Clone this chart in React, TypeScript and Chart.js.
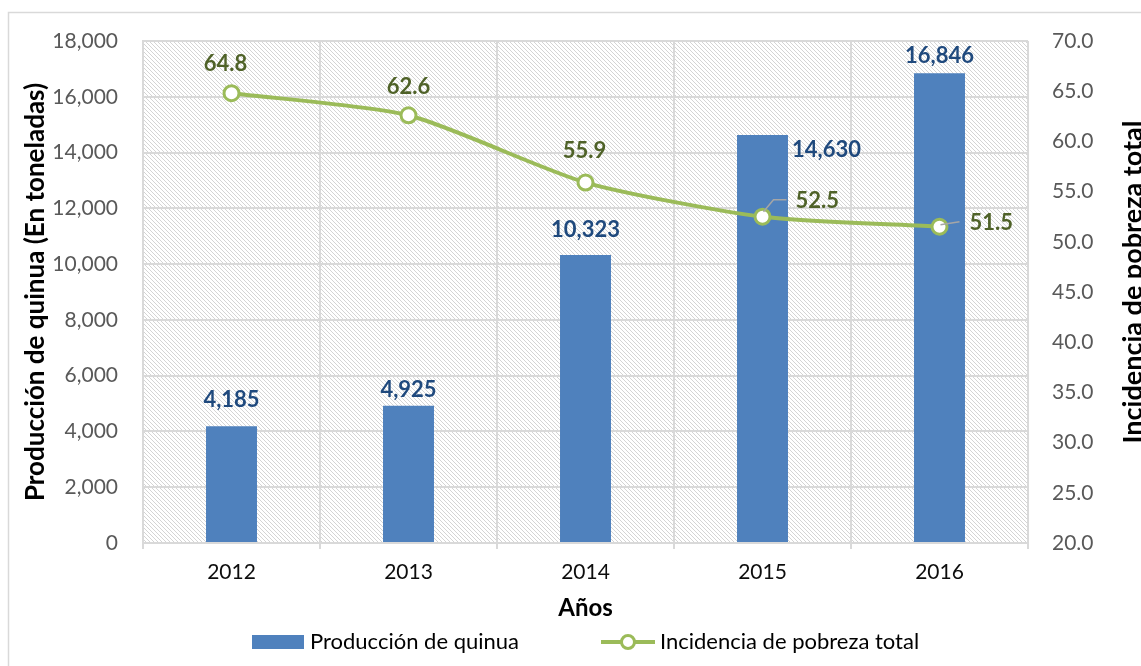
import React, { useEffect, useRef } from 'react';
import { Chart, registerables } from 'chart.js';

Chart.register(...registerables);

// ---- data ----
const years: string[] = ['2012', '2013', '2014', '2015', '2016'];
const produccion: number[] = [4185, 4925, 10323, 14630, 16846];
const pobreza: number[] = [64.8, 62.6, 55.9, 52.5, 51.5];

const leftMin = 0;
const leftMax = 18000;
const leftStep = 2000;
const rightMin = 20;
const rightMax = 70;
const rightStep = 5;

const barLabel = 'Producción de quinua';
const lineLabel = 'Incidencia de pobreza total';
const leftTitle = 'Producción de quinua (En toneladas)';
const rightTitle = 'Incidencia de pobreza total';
const xTitle = 'Años';

// ---- style ----
const FONT = 'Lato, "Open Sans", sans-serif';
const BAR_COLOR = '#4F81BD';
const LINE_COLOR = '#9BBB59';
const BAR_TEXT = '#1F497D';
const LINE_TEXT = '#4F6228';
const GRID = '#D9D9D9';
const TICK_TEXT = '#595959';

type Place = { dx: number; dy: number; align: CanvasTextAlign; leader?: number[][] };
const barPlace: Place[] = [
  { dx: 0, dy: -26, align: 'center' },
  { dx: 0, dy: -16, align: 'center' },
  { dx: 0, dy: -25, align: 'center' },
  { dx: 30, dy: 15, align: 'left' },
  { dx: 0, dy: -17, align: 'center' },
];
const linePlace: Place[] = [
  { dx: -6, dy: -29, align: 'center' },
  { dx: 0, dy: -28, align: 'center' },
  { dx: -1, dy: -32, align: 'center' },
  { dx: 33, dy: -16, align: 'left', leader: [[1, -5], [11, -17], [24, -17]] },
  { dx: 30, dy: -3.5, align: 'left', leader: [[1, -2], [20, -5]] },
];

const fmtThousands = (v: number) => Math.round(v).toLocaleString('en-US');

function makeHatch(ctx: CanvasRenderingContext2D) {
  const c = document.createElement('canvas');
  c.width = 8;
  c.height = 8;
  const g = c.getContext('2d')!;
  g.fillStyle = '#FFFFFF';
  g.fillRect(0, 0, 8, 8);
  g.strokeStyle = '#D4D4D4';
  g.lineWidth = 1;
  for (let k = -8; k <= 8; k += 4) {
    g.beginPath();
    g.moveTo(k - 2, -2);
    g.lineTo(k + 10, 10);
    g.stroke();
  }
  return ctx.createPattern(c, 'repeat');
}

const backgroundPlugin = {
  id: 'bgHatch',
  beforeDraw(chart: any) {
    const { ctx, chartArea } = chart;
    ctx.save();
    ctx.fillStyle = '#FFFFFF';
    ctx.fillRect(0, 0, chart.width, chart.height);
    ctx.strokeStyle = GRID;
    ctx.lineWidth = 1.5;
    ctx.strokeRect(8.5, 12.5, chart.width + 20, chart.height + 20);
    const pat = makeHatch(ctx);
    if (pat) {
      ctx.fillStyle = pat;
      ctx.fillRect(chartArea.left, chartArea.top, chartArea.right - chartArea.left, chartArea.bottom - chartArea.top);
    }
    ctx.restore();
  },
};

const labelsPlugin = {
  id: 'valueLabels',
  afterDatasetsDraw(chart: any) {
    const { ctx } = chart;
    ctx.save();
    ctx.font = `bold 22px ${FONT}`;
    ctx.textBaseline = 'middle';
    chart.data.datasets.forEach((ds: any, di: number) => {
      const meta = chart.getDatasetMeta(di);
      const isBar = ds.type === 'bar';
      meta.data.forEach((el: any, i: number) => {
        const v = ds.data[i] as number;
        const text = isBar ? fmtThousands(v) : v.toFixed(1);
        if (isBar) {
          const p = barPlace[i];
          const x = p.align === 'left' ? el.x + el.width / 2 + 4 : el.x + p.dx;
          ctx.fillStyle = BAR_TEXT;
          ctx.textAlign = p.align;
          ctx.fillText(text, x, el.y + p.dy);
        } else {
          const p = linePlace[i];
          if (p.leader) {
            ctx.strokeStyle = '#A6A6A6';
            ctx.lineWidth = 1.5;
            ctx.beginPath();
            p.leader.forEach((pt, k) => {
              if (k === 0) ctx.moveTo(el.x + pt[0], el.y + pt[1]);
              else ctx.lineTo(el.x + pt[0], el.y + pt[1]);
            });
            ctx.stroke();
          }
          ctx.fillStyle = LINE_TEXT;
          ctx.textAlign = p.align;
          ctx.fillText(text, el.x + p.dx, el.y + p.dy);
        }
      });
    });
    ctx.restore();
  },
};

const extrasPlugin = {
  id: 'extras',
  afterDraw(chart: any) {
    const { ctx } = chart;
    ctx.save();
    // right axis title (reads bottom to top)
    ctx.font = `bold 27px ${FONT}`;
    ctx.fillStyle = '#000000';
    ctx.textAlign = 'center';
    ctx.textBaseline = 'alphabetic';
    ctx.translate(1142, 282);
    ctx.rotate(-Math.PI / 2);
    ctx.fillText(rightTitle, 0, 0);
    ctx.restore();

    // legend
    ctx.save();
    const cy = 642;
    ctx.font = `22px ${FONT}`;
    ctx.textBaseline = 'middle';
    ctx.textAlign = 'left';
    let x = 252;
    ctx.fillStyle = BAR_COLOR;
    ctx.fillRect(x, cy - 7, 52, 14);
    ctx.fillStyle = '#000000';
    ctx.fillText(barLabel, x + 58, cy);
    x = x + 58 + ctx.measureText(barLabel).width + 82;
    ctx.strokeStyle = LINE_COLOR;
    ctx.lineWidth = 4;
    ctx.beginPath();
    ctx.moveTo(x, cy);
    ctx.lineTo(x + 54, cy);
    ctx.stroke();
    ctx.beginPath();
    ctx.arc(x + 27, cy, 6.5, 0, Math.PI * 2);
    ctx.fillStyle = '#FFFFFF';
    ctx.fill();
    ctx.lineWidth = 3;
    ctx.stroke();
    ctx.fillStyle = '#000000';
    ctx.fillText(lineLabel, x + 59, cy);
    ctx.restore();
  },
};

export default function App() {
  const ref = useRef<HTMLCanvasElement | null>(null);
  useEffect(() => {
    if (!ref.current) return;
    const chart = new Chart(ref.current, {
      data: {
        labels: years,
        datasets: [
          {
            type: 'line',
            label: lineLabel,
            data: pobreza,
            yAxisID: 'y1',
            borderColor: LINE_COLOR,
            borderWidth: 4,
            tension: 0.22,
            pointRadius: 7.5,
            pointBorderWidth: 3,
            pointBackgroundColor: '#FFFFFF',
            pointBorderColor: LINE_COLOR,
            order: 0,
          } as any,
          {
            type: 'bar',
            label: barLabel,
            data: produccion,
            yAxisID: 'y',
            backgroundColor: BAR_COLOR,
            barPercentage: 0.36,
            categoryPercentage: 0.8,
            order: 1,
          } as any,
        ],
      },
      options: {
        responsive: false,
        animation: false,
        devicePixelRatio: 1,
        layout: { padding: { top: 41, left: 0, right: 0, bottom: 0 } },
        plugins: {
          legend: { display: false },
          tooltip: { enabled: false },
          title: { display: false },
        },
        scales: {
          x: {
            type: 'category',
            offset: true,
            grid: { color: GRID, lineWidth: 2, offset: true, drawTicks: true, tickLength: 6, tickColor: GRID },
            border: { color: GRID, width: 2 },
            ticks: { color: '#0D0D0D', font: { family: FONT, size: 21 }, padding: 11 },
            title: {
              display: true,
              text: xTitle,
              color: '#000000',
              font: { family: FONT, size: 24, weight: 'bold' },
              padding: { top: 0, bottom: 43 },
            },
            afterFit: (s: any) => { s.height = 123; },
          },
          y: {
            position: 'left',
            min: leftMin,
            max: leftMax,
            ticks: {
              stepSize: leftStep,
              color: TICK_TEXT,
              font: { family: FONT, size: 21 },
              padding: 25,
              callback: (v: any) => fmtThousands(Number(v)),
            },
            grid: { color: GRID, lineWidth: 2, drawTicks: false },
            border: { color: GRID, width: 2 },
            title: {
              display: true,
              text: leftTitle,
              color: '#000000',
              font: { family: FONT, size: 26, weight: 'bold' },
              padding: { top: 20, bottom: 0 },
            },
            afterFit: (s: any) => { s.width = 143; },
          },
          y1: {
            position: 'right',
            min: rightMin,
            max: rightMax,
            ticks: {
              stepSize: rightStep,
              color: TICK_TEXT,
              font: { family: FONT, size: 21 },
              padding: 16,
              callback: (v: any) => Number(v).toFixed(1),
            },
            grid: { display: false },
            border: { display: false },
            afterFit: (s: any) => { s.width = 113; },
          },
        },
      } as any,
      plugins: [backgroundPlugin, labelsPlugin, extrasPlugin],
    });
    return () => chart.destroy();
  }, []);

  return (
    <div style={{ position: 'fixed', left: 0, top: 0, width: 1141, height: 666, background: '#fff' }}>
      <canvas ref={ref} width={1141} height={666} style={{ width: 1141, height: 666, display: 'block' }} />
    </div>
  );
}
